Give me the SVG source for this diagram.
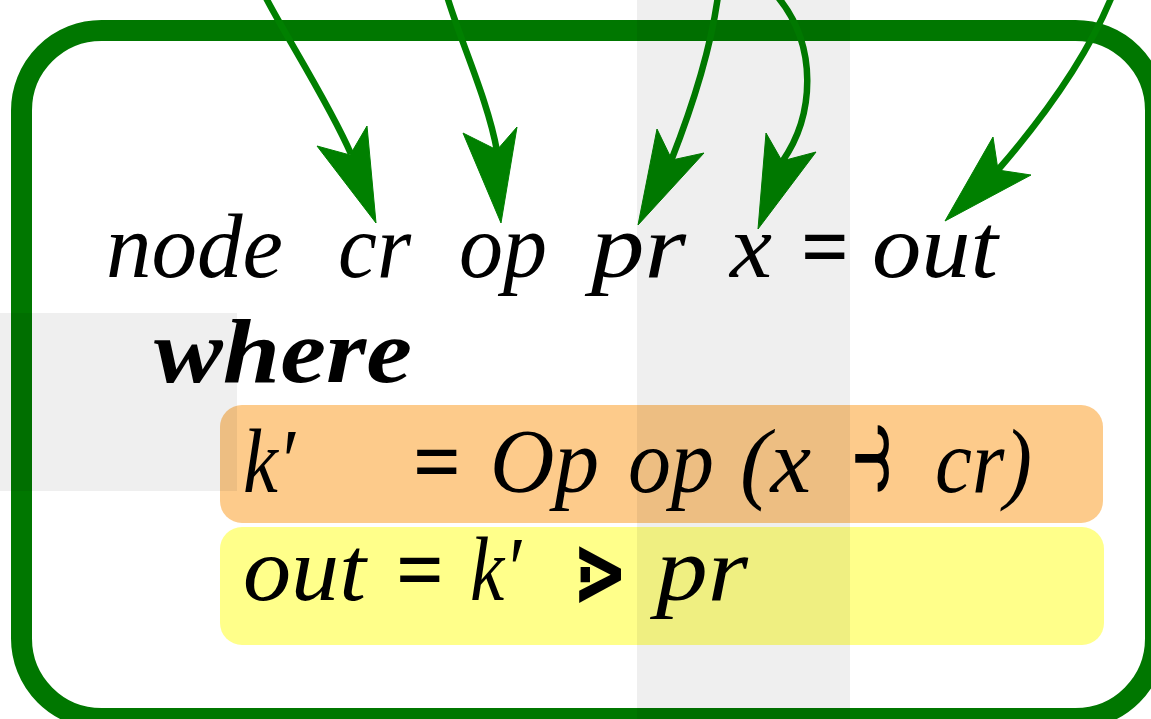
<svg xmlns="http://www.w3.org/2000/svg" width="1151" height="719" viewBox="0 0 1151 719">
  <style>
    .m { font-family: "Liberation Serif", "DejaVu Serif", serif; font-style: italic; font-size: 90px; fill: #000; }
    .r { font-family: "Liberation Serif", "DejaVu Serif", serif; font-style: normal; font-weight: bold; font-size: 90px; fill: #000; }
    .b { font-family: "Liberation Serif", "DejaVu Serif", serif; font-style: italic; font-weight: bold; font-size: 92px; fill: #000; }
    .sym { font-family: "DejaVu Serif", "DejaVu Sans", serif; font-size: 110px; fill: #000; }
    .sym2 { font-family: "DejaVu Sans", "Noto Sans", sans-serif; font-weight: bold; font-size: 100px; fill: #000; }
    .shaft { fill: none; stroke: #008000; stroke-width: 6.5; stroke-linecap: butt; }
    .head { fill: #008000; stroke: #008000; stroke-width: 1; stroke-linejoin: miter; }
    .band { fill: #000; fill-opacity: 0.063; }
  </style>
  <rect x="0" y="0" width="1151" height="719" fill="#ffffff"/>

  <g id="frame">
    <rect x="21.5" y="30.5" width="1134" height="688" rx="80" ry="80" fill="none" stroke="#007700" stroke-width="21"/>
  </g>

  <g id="eq-k">
    <rect x="220" y="405" width="883" height="118" rx="22" ry="22" fill="#fdcb8b"/>
    <text class="m" x="243" y="492" textLength="52" lengthAdjust="spacingAndGlyphs">k′</text>
    <text class="r" x="413" y="492" textLength="48" lengthAdjust="spacingAndGlyphs">=</text>
    <text class="m" x="490" y="492" textLength="109" lengthAdjust="spacingAndGlyphs">Op</text>
    <text class="m" x="628" y="492" textLength="86" lengthAdjust="spacingAndGlyphs">op</text>
    <text class="m" x="740" y="492" textLength="71" lengthAdjust="spacingAndGlyphs">(x</text>
    <text class="sym" x="845" y="494" textLength="55" lengthAdjust="spacingAndGlyphs">⥽</text>
    <text class="m" x="935" y="492" textLength="97" lengthAdjust="spacingAndGlyphs">cr)</text>
  </g>

  <g id="eq-out">
    <rect x="220" y="527" width="884" height="118" rx="22" ry="22" fill="#ffff8a"/>
    <text class="m" x="243" y="600" textLength="123" lengthAdjust="spacingAndGlyphs">out</text>
    <text class="r" x="396" y="600" textLength="48" lengthAdjust="spacingAndGlyphs">=</text>
    <text class="m" x="470" y="600" textLength="51" lengthAdjust="spacingAndGlyphs">k′</text>
    <text class="sym2" x="572" y="606" textLength="56" lengthAdjust="spacingAndGlyphs">⋗</text>
    <text class="m" x="656" y="600" textLength="92" lengthAdjust="spacingAndGlyphs">pr</text>
  </g>

  <g id="header">
    <text class="m" x="106" y="277" textLength="177" lengthAdjust="spacingAndGlyphs">node</text>
    <text class="m" x="338" y="277" textLength="73" lengthAdjust="spacingAndGlyphs">cr</text>
    <text class="m" x="459" y="277" textLength="88" lengthAdjust="spacingAndGlyphs">op</text>
    <text class="m" x="591" y="277" textLength="95" lengthAdjust="spacingAndGlyphs">pr</text>
    <text class="m" x="730" y="277" textLength="42" lengthAdjust="spacingAndGlyphs">x</text>
    <text class="r" x="801" y="277" textLength="48" lengthAdjust="spacingAndGlyphs">=</text>
    <text class="m" x="872" y="277" textLength="126" lengthAdjust="spacingAndGlyphs">out</text>
  </g>

  <g id="where">
    <text class="b" x="154" y="382" textLength="258" lengthAdjust="spacingAndGlyphs">where</text>
  </g>

  <g id="connectors">
    <path class="shaft" d="M265,-4 C285,35 330,105 351,154"/>
    <polygon class="head" points="376,223 317,146 350,155 367,126"/>
    <path class="shaft" d="M447,-4 C460,40 488,100 497,151"/>
    <polygon class="head" points="501,223 463,133 497,150 517,127"/>
    <path class="shaft" d="M718,-4 C712,40 695,100 671,161"/>
    <polygon class="head" points="638,225 657,129 672,160 704,153"/>
    <path class="shaft" d="M777,-4 C818,45 815,115 782,162"/>
    <polygon class="head" points="758,229 766,133 782,161 816,152"/>
    <path class="shaft" d="M1112,-4 C1090,50 1050,110 997,171"/>
    <polygon class="head" points="945,221 993,137 998,170 1031,175"/>
  </g>

  <g id="bands">
    <rect class="band" x="637" y="0" width="213" height="719"/>
    <rect class="band" x="0" y="313" width="237" height="178"/>
  </g>
</svg>
